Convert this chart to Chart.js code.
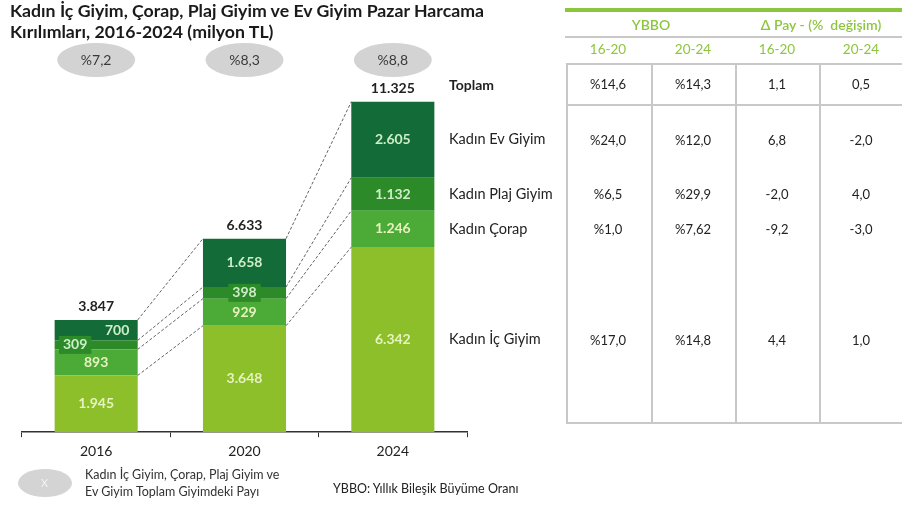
<!DOCTYPE html>
<html>
<head>
<meta charset="utf-8">
<script src="https://cdn.jsdelivr.net/npm/chart.js@4"></script>
<style>
  body { margin: 0; width: 902px; height: 506px; overflow: hidden; background: #fff; position: relative;
         font-family: Lato, "Open Sans", sans-serif; color: #222; }
  #chart { position: absolute; left: 0; top: 0; }
  .abs { position: absolute; white-space: nowrap; }
  .title { left: 10px; top: 0px; font-size: 17.7px; font-weight: bold; line-height: 21px; color: #1a1a1a; }
  .hdr { color: #8cc63f; font-size: 14px; font-weight: 600; transform: translate(-50%, -50%); }
  .sub { color: #8cc63f; font-size: 13.5px; transform: translate(-50%, -50%); }
  .cell { font-size: 13px; color: #222; transform: translate(-50%, -50%); }
  .hline { position: absolute; height: 2px; background: #c8c8c8; }
  .vline { position: absolute; width: 2px; background: #c8c8c8; }
  .note { font-size: 12.5px; color: #333; line-height: 17px; }
</style>
</head>
<body>
<canvas id="chart" width="902" height="506"></canvas>

<div class="abs title">Kadın İç Giyim, Çorap, Plaj Giyim ve Ev Giyim Pazar Harcama<br>Kırılımları, 2016-2024 (milyon TL)</div>

<!-- tablo -->
<div class="abs" style="left:565px;top:8px;width:337px;height:4px;background:#8cc63f"></div>
<div class="abs hdr" style="left:651px;top:24px">YBBO</div>
<div class="abs hdr" style="left:821px;top:24px">Δ Pay - (%&nbsp; değişim)</div>
<div class="hline" style="left:565px;top:36px;width:337px"></div>
<div id="subHeaders"></div>
<div id="tableBody"></div>

<!-- notlar -->
<div class="abs" style="left:18px;top:469px;width:54px;height:28px;border-radius:50%;background:#d4d4d4"></div>
<div class="abs" style="left:41px;top:476px;font-size:11px;color:#f2f2f2">X</div>
<div class="abs note" style="left:85px;top:466px">Kadın İç Giyim, Çorap, Plaj Giyim ve<br>Ev Giyim Toplam Giyimdeki Payı</div>
<div class="abs" style="left:333px;top:481px;font-size:12.5px;color:#222">YBBO: Yıllık Bileşik Büyüme Oranı</div>

<script>
// -------------------------------
// Veriler (milyon TL)
// -------------------------------
const years = ['2016', '2020', '2024'];
const icGiyim = [1945, 3648, 6342];
const corap = [893, 929, 1246];
const plajGiyim = [309, 398, 1132];
const evGiyim = [700, 1658, 2605];
const toplamPay = ['%7,2', '%8,3', '%8,8'];
const seriesNames = ['Kadın İç Giyim', 'Kadın Çorap', 'Kadın Plaj Giyim', 'Kadın Ev Giyim'];

// Tablo (satırlar: Toplam, Ev, Plaj, Çorap, İç)
const subHeaders = ['16-20', '20-24', '16-20', '20-24'];
const ybbo1620 = ['%14,6', '%24,0', '%6,5', '%1,0', '%17,0'];
const ybbo2024 = ['%14,3', '%12,0', '%29,9', '%7,62', '%14,8'];
const pay1620 = ['1,1', '6,8', '-2,0', '-9,2', '4,4'];
const pay2024 = ['0,5', '-2,0', '4,0', '-3,0', '1,0'];

const colors = ['#8cbf2a', '#4bab36', '#2c8a28', '#136b37'];
const fmt = v => String(v).replace(/\B(?=(\d{3})+(?!\d))/g, '.');
const FONT = 'Lato, "Open Sans", sans-serif';

// etiket kaydırmaları (2016'daki 700 ve 309)
const labelShift = { '0-3': 21, '0-2': -21 };
const labelBox = ['0-2', '1-2'];

const decorPlugin = {
  id: 'decor',
  afterDatasetsDraw(chart) {
    const ctx = chart.ctx;
    const metas = [0, 1, 2, 3].map(i => chart.getDatasetMeta(i));
    ctx.save();

    // kesikli bağlantı çizgileri
    ctx.strokeStyle = '#3a3a3a';
    ctx.lineWidth = 0.8;
    ctx.setLineDash([3, 2]);
    for (let j = 0; j < years.length - 1; j++) {
      metas.forEach(m => {
        const a = m.data[j], b = m.data[j + 1];
        ctx.beginPath();
        ctx.moveTo(a.x + a.width / 2, a.y);
        ctx.lineTo(b.x - b.width / 2, b.y);
        ctx.stroke();
      });
    }
    ctx.setLineDash([]);

    // segment değerleri
    ctx.textAlign = 'center';
    ctx.textBaseline = 'middle';
    ctx.font = 'bold 14px ' + FONT;
    metas.forEach((m, i) => {
      m.data.forEach((bar, j) => {
        const key = j + '-' + i;
        const v = chart.data.datasets[i].data[j];
        const x = bar.x + (labelShift[key] || 0);
        const y = (bar.y + bar.base) / 2;
        const txt = fmt(v);
        if (labelBox.includes(key)) {
          const w = ctx.measureText(txt).width + 8;
          ctx.fillStyle = colors[2];
          ctx.fillRect(x - w / 2, y - 9, w, 18);
        }
        ctx.fillStyle = i >= 2 ? '#cdeec8' : '#e6f3bf';
        ctx.fillText(txt, x, y);
      });
    });

    // toplamlar ve paylar
    const top = metas[3];
    top.data.forEach((bar, j) => {
      const total = icGiyim[j] + corap[j] + plajGiyim[j] + evGiyim[j];
      ctx.fillStyle = '#222';
      ctx.font = 'bold 14px ' + FONT;
      ctx.fillText(fmt(total), bar.x, bar.y - 13);

      ctx.fillStyle = '#d3d3d3';
      ctx.beginPath();
      ctx.ellipse(bar.x, 60, 39, 17, 0, 0, Math.PI * 2);
      ctx.fill();
      ctx.fillStyle = '#3a3a3a';
      ctx.font = '14px ' + FONT;
      ctx.fillText(toplamPay[j], bar.x, 60);
    });

    // sağdaki seri adları (2024 çubuğuna hizalı)
    const last = years.length - 1;
    const lx = chart.chartArea.right - 18;
    ctx.textAlign = 'left';
    ctx.fillStyle = '#222';
    ctx.font = 'bold 14px ' + FONT;
    ctx.fillText('Toplam', lx, top.data[last].y - 16);
    ctx.font = '14.5px ' + FONT;
    metas.forEach((m, i) => {
      const bar = m.data[last];
      ctx.fillText(seriesNames[i], lx, (bar.y + bar.base) / 2);
    });
    ctx.restore();
  }
};

const chart = new Chart(document.getElementById('chart'), {
  type: 'bar',
  data: {
    labels: years,
    datasets: seriesNames.map((name, i) => ({
      label: name,
      data: [icGiyim, corap, plajGiyim, evGiyim][i],
      backgroundColor: colors[i],
      barPercentage: 0.56,
      categoryPercentage: 1
    }))
  },
  options: {
    responsive: false,
    animation: false,
    layout: { padding: { left: 22, right: 435, top: 82, bottom: 40 } },
    plugins: { legend: { display: false }, tooltip: { enabled: false } },
    scales: {
      x: {
        stacked: true,
        border: { display: true, color: '#333', width: 1.5 },
        grid: { drawOnChartArea: false, color: '#333', tickLength: 5 },
        ticks: { color: '#222', font: { family: FONT, size: 14 }, padding: 6 }
      },
      y: { stacked: true, display: false, min: 0, max: 12000 }
    }
  },
  plugins: [decorPlugin]
});

// -------------------------------
// Tablo: alt başlıklar ve hücreler
// -------------------------------
const colX = [608, 693, 777, 861];
subHeaders.forEach((t, k) => {
  const d = document.createElement('div');
  d.className = 'abs sub';
  d.style.left = colX[k] + 'px';
  d.style.top = '49px';
  d.textContent = t;
  document.getElementById('subHeaders').appendChild(d);
});

const body = document.getElementById('tableBody');
const addLine = (cls, style) => {
  const d = document.createElement('div');
  d.className = cls;
  Object.assign(d.style, style);
  body.appendChild(d);
};
addLine('hline', { left: '566px', top: '63px', width: '336px' });
addLine('hline', { left: '566px', top: '104px', width: '336px' });
addLine('hline', { left: '566px', top: '422px', width: '336px' });
[566, 651, 735, 819].forEach(x => addLine('vline', { left: x + 'px', top: '63px', height: '361px' }));

// satır y konumları: Toplam hücre ortası, diğerleri 2024 segment ortaları
const last = years.length - 1;
const rowY = [84].concat([3, 2, 1, 0].map(i => {
  const bar = chart.getDatasetMeta(i).data[last];
  return (bar.y + bar.base) / 2;
}));
[ybbo1620, ybbo2024, pay1620, pay2024].forEach((col, k) => {
  col.forEach((t, r) => {
    const d = document.createElement('div');
    d.className = 'abs cell';
    d.style.left = colX[k] + 'px';
    d.style.top = rowY[r] + 'px';
    d.textContent = t;
    body.appendChild(d);
  });
});
</script>
</body>
</html>
